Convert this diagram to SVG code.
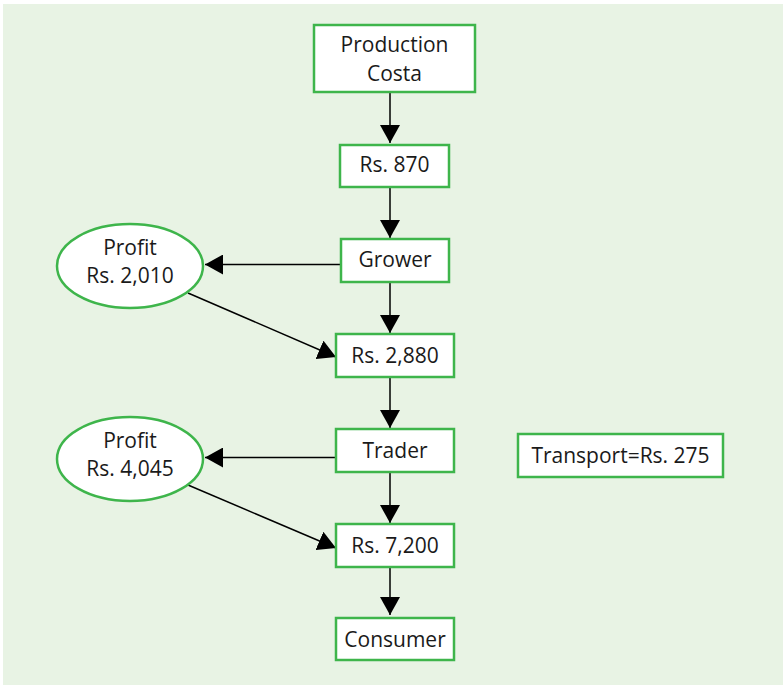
<svg xmlns="http://www.w3.org/2000/svg" width="783" height="685" viewBox="0 0 783 685">
  <defs>
    <marker id="arrow" viewBox="0 0 18 20" refX="18" refY="10" markerWidth="18" markerHeight="20" markerUnits="userSpaceOnUse" orient="auto">
      <path d="M0,0 L18,10 L0,20 Z" fill="#000"/>
    </marker>
  </defs>
  <style>
    .box { fill: #ffffff; stroke: #3eb54b; stroke-width: 2.5; }
    .lbl { font-family: "Open Sans", "Liberation Sans", sans-serif; font-size: 21px; fill: #1a1a1a; text-anchor: middle; }
    .conn { stroke: #000; stroke-width: 1.5; fill: none; marker-end: url(#arrow); }
  </style>

  <!-- panel background -->
  <rect x="3" y="4" width="780" height="681" fill="#e8f3e4"/>

  <g id="connectors">
    <line class="conn" x1="390" y1="93" x2="390" y2="143"/>
    <line class="conn" x1="390" y1="187" x2="390" y2="238"/>
    <line class="conn" x1="341" y1="264.5" x2="205" y2="264.5"/>
    <line class="conn" x1="390" y1="282" x2="390" y2="333"/>
    <line class="conn" x1="188" y1="293" x2="336" y2="357"/>
    <line class="conn" x1="390" y1="377" x2="390" y2="428"/>
    <line class="conn" x1="336" y1="457.5" x2="205" y2="457.5"/>
    <line class="conn" x1="390" y1="472" x2="390" y2="523"/>
    <line class="conn" x1="188" y1="485" x2="336" y2="548"/>
    <line class="conn" x1="390" y1="567" x2="390" y2="615"/>
  </g>

  <g id="production-costa">
    <rect class="box" x="314" y="25" width="161" height="67"/>
    <text class="lbl" x="394.5" y="52">Production</text>
    <text class="lbl" x="394.5" y="80.5">Costa</text>
  </g>

  <g id="rs-870">
    <rect class="box" x="340" y="145" width="109" height="42"/>
    <text class="lbl" x="394.5" y="171.5">Rs. 870</text>
  </g>

  <g id="grower">
    <rect class="box" x="341" y="239" width="108" height="43"/>
    <text class="lbl" x="395" y="266.5">Grower</text>
  </g>

  <g id="profit-grower">
    <ellipse class="box" cx="130" cy="266" rx="73" ry="42"/>
    <text class="lbl" x="130" y="255">Profit</text>
    <text class="lbl" x="130" y="283">Rs. 2,010</text>
  </g>

  <g id="rs-2880">
    <rect class="box" x="336" y="334" width="118" height="43"/>
    <text class="lbl" x="395" y="362.5">Rs. 2,880</text>
  </g>

  <g id="trader">
    <rect class="box" x="336" y="429" width="118" height="43"/>
    <text class="lbl" x="395" y="458">Trader</text>
  </g>

  <g id="profit-trader">
    <ellipse class="box" cx="130" cy="459" rx="73" ry="42"/>
    <text class="lbl" x="130" y="447.5">Profit</text>
    <text class="lbl" x="130" y="476">Rs. 4,045</text>
  </g>

  <g id="transport">
    <rect class="box" x="518" y="434" width="205" height="43"/>
    <text class="lbl" x="620.5" y="463">Transport=Rs. 275</text>
  </g>

  <g id="rs-7200">
    <rect class="box" x="336" y="524" width="118" height="43"/>
    <text class="lbl" x="395" y="552.5">Rs. 7,200</text>
  </g>

  <g id="consumer">
    <rect class="box" x="336" y="618" width="118" height="42"/>
    <text class="lbl" x="395" y="646.5">Consumer</text>
  </g>
</svg>
